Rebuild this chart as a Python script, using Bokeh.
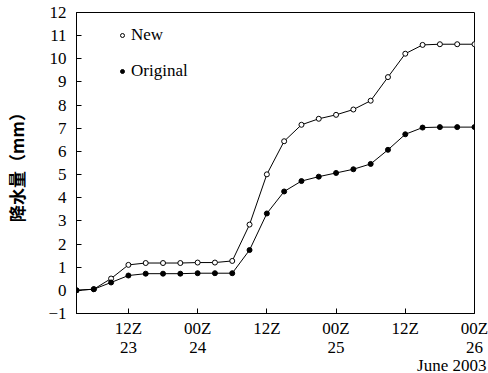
from bokeh.plotting import figure
from bokeh.models import Range1d, FixedTicker, Legend, LegendItem, Title
from bokeh.embed import file_html
from bokeh.resources import INLINE

# Accumulated precipitation, sampled every 3 h from 03Z 23 June 2003 (hours since 00Z 23)
hours = [3, 6, 9, 12, 15, 18, 21, 24, 27, 30, 33, 36,
         39, 42, 45, 48, 51, 54, 57, 60, 63, 66, 69, 72]
new_mm = [0.0, 0.05, 0.51, 1.10, 1.18, 1.18, 1.18, 1.20, 1.20, 1.27, 2.84, 5.01,
          6.44, 7.15, 7.41, 7.58, 7.81, 8.19, 9.21, 10.22, 10.60, 10.63, 10.63, 10.63]
original_mm = [0.0, 0.05, 0.34, 0.64, 0.72, 0.72, 0.72, 0.74, 0.74, 0.74, 1.74, 3.32,
               4.27, 4.72, 4.91, 5.07, 5.23, 5.46, 6.07, 6.74, 7.03, 7.05, 7.05, 7.05]

tick_hours = [12, 24, 36, 48, 60, 72]
tick_labels = ["12Z\n23", "00Z\n24", "12Z", "00Z\n25", "12Z", "00Z\n26"]
y_ticks = list(range(-1, 13))

SERIF = "'Liberation Serif'"
CJK = "'Noto Sans CJK SC'"

p = figure(width=488, height=373, output_backend="svg", toolbar_location=None,
           x_range=Range1d(3, 72), y_range=Range1d(-1, 12),
           min_border_left=76, min_border_right=14, min_border_top=12, min_border_bottom=60)
p.background_fill_color = "white"
p.border_fill_color = "white"
p.outline_line_color = "black"
p.outline_line_width = 1
p.grid.visible = False

# Series
p.line(hours, new_mm, line_color="black", line_width=1)
p.line(hours, original_mm, line_color="black", line_width=1)
r_new = p.scatter(hours, new_mm, size=5, marker="circle",
                  fill_color="white", line_color="black", line_width=1)
r_orig = p.scatter(hours, original_mm, size=5, marker="circle",
                   fill_color="black", line_color="black", line_width=1)

# Axes
for ax in (p.xaxis[0], p.yaxis[0]):
    ax.axis_line_color = "black"
    ax.major_tick_line_color = "black"
    ax.major_tick_in = 5
    ax.major_tick_out = 0
    ax.minor_tick_line_color = None
    ax.major_label_text_font = SERIF
    ax.major_label_text_font_size = "17px"
    ax.major_label_text_color = "black"

p.xaxis.ticker = FixedTicker(ticks=tick_hours)
p.xaxis.major_label_overrides = dict(zip(tick_hours, tick_labels))
p.xaxis.major_label_standoff = 5
p.xaxis.major_label_text_line_height = 1.05

p.yaxis.ticker = FixedTicker(ticks=y_ticks)
p.yaxis.major_label_overrides = {t: ("\u22121" if t == -1 else str(t)) for t in y_ticks}
p.yaxis.major_label_standoff = 10
p.yaxis.axis_label = "降水量（mm）"
p.yaxis.axis_label_text_font = CJK
p.yaxis.axis_label_text_font_size = "17px"
p.yaxis.axis_label_text_font_style = "bold"
p.yaxis.axis_label_text_color = "black"
p.yaxis.axis_label_standoff = 16

# Date caption under the last tick, tucked close to the tick labels
p.add_layout(Title(text="June 2003", align="right", vertical_align="top",
                   offset=-12, standoff=-10,
                   text_font=SERIF, text_font_size="17px", text_font_style="normal",
                   text_color="black"), "below")

# Legend
legend = Legend(items=[LegendItem(label="New", renderers=[r_new]),
                       LegendItem(label="Original", renderers=[r_orig])],
                location=(41, 232), orientation="vertical")
legend.border_line_color = None
legend.background_fill_alpha = 0
legend.padding = 0
legend.margin = 0
legend.spacing = 16
legend.glyph_width = 10
legend.glyph_height = 20
legend.label_height = 20
legend.label_standoff = 4
legend.label_text_font = "Liberation Serif"
legend.label_text_font_size = "17px"
legend.label_text_color = "black"
p.add_layout(legend)

open("out.html", "w").write(file_html(p, INLINE))
